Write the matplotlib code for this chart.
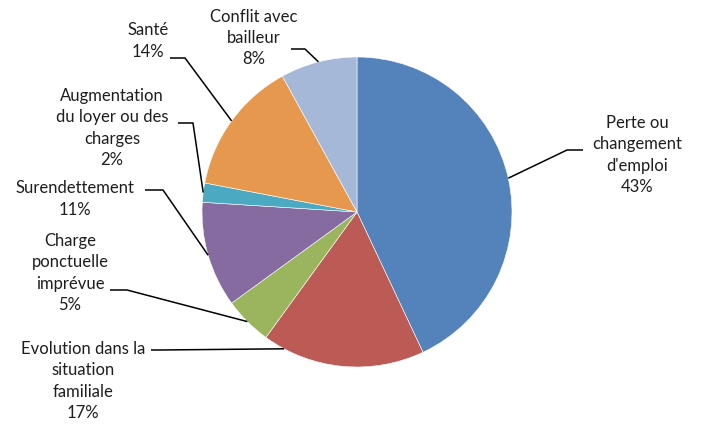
import matplotlib.pyplot as plt
import numpy as np

labels = ["Perte ou\nchangement\nd'emploi", "Evolution dans la\nsituation\nfamiliale",
          "Charge\nponctuelle\nimprévue", "Surendettement",
          "Augmentation\ndu loyer ou des\ncharges", "Santé", "Conflit avec\nbailleur"]
values = [43, 17, 5, 11, 2, 14, 8]
colors = ['#5383BA', '#BC5A55', '#9BB45E', '#856BA0', '#4BA9C2', '#E6984F', '#A6B8D8']

# layout in pixel space: label centre, elbow start, elbow end, anchor position in wedge
cx, cy, R = 357, 212, 155
text_pos = [(637, 155), (83, 381), (70, 273), (75, 199), (112, 128), (148, 41), (254, 38)]
elbows = [((583, 150), (567, 150)), ((151, 350), (160, 350)), ((110, 290), (127, 290)),
          ((145, 190), (163, 190)), ((178, 123), (193, 123)), ((170, 58), (185, 58)),
          ((291, 49), (305, 49))]
anchor_frac = [0.5, 0.87, 0.5, 0.5, 0.5, 0.5, 0.5]


def px(p):
    return ((p[0] - cx) / R, (cy - p[1]) / R)


fig = plt.figure(figsize=(7.04, 4.24), dpi=100)
ax = fig.add_axes([0, 0, 1, 1])

wedges, _ = ax.pie(values, colors=colors, startangle=90, counterclock=False,
                   radius=1, wedgeprops=dict(edgecolor='white', linewidth=0.4))
ax.set_aspect('auto')
ax.set_xlim(-cx / R, (704 - cx) / R)
ax.set_ylim(-(424 - cy) / R, cy / R)
ax.axis('off')

total = sum(values)
start = 90.0
for i, v in enumerate(values):
    span = 360.0 * v / total
    ang = np.deg2rad(start - span * anchor_frac[i])
    start -= span
    a = (np.cos(ang), np.sin(ang))
    e1 = px(elbows[i][0])
    e2 = px(elbows[i][1])
    ax.plot([e1[0], e2[0], a[0]], [e1[1], e2[1], a[1]], color='black', lw=1.1,
            solid_capstyle='butt')
    t = px(text_pos[i])
    ax.text(t[0], t[1], f"{labels[i]}\n{v}%", ha='center', va='center',
            multialignment='center', fontsize=12, family='Lato',
            color='#1e1e1e', linespacing=1.42)

fig.savefig('out.png', dpi=100)
